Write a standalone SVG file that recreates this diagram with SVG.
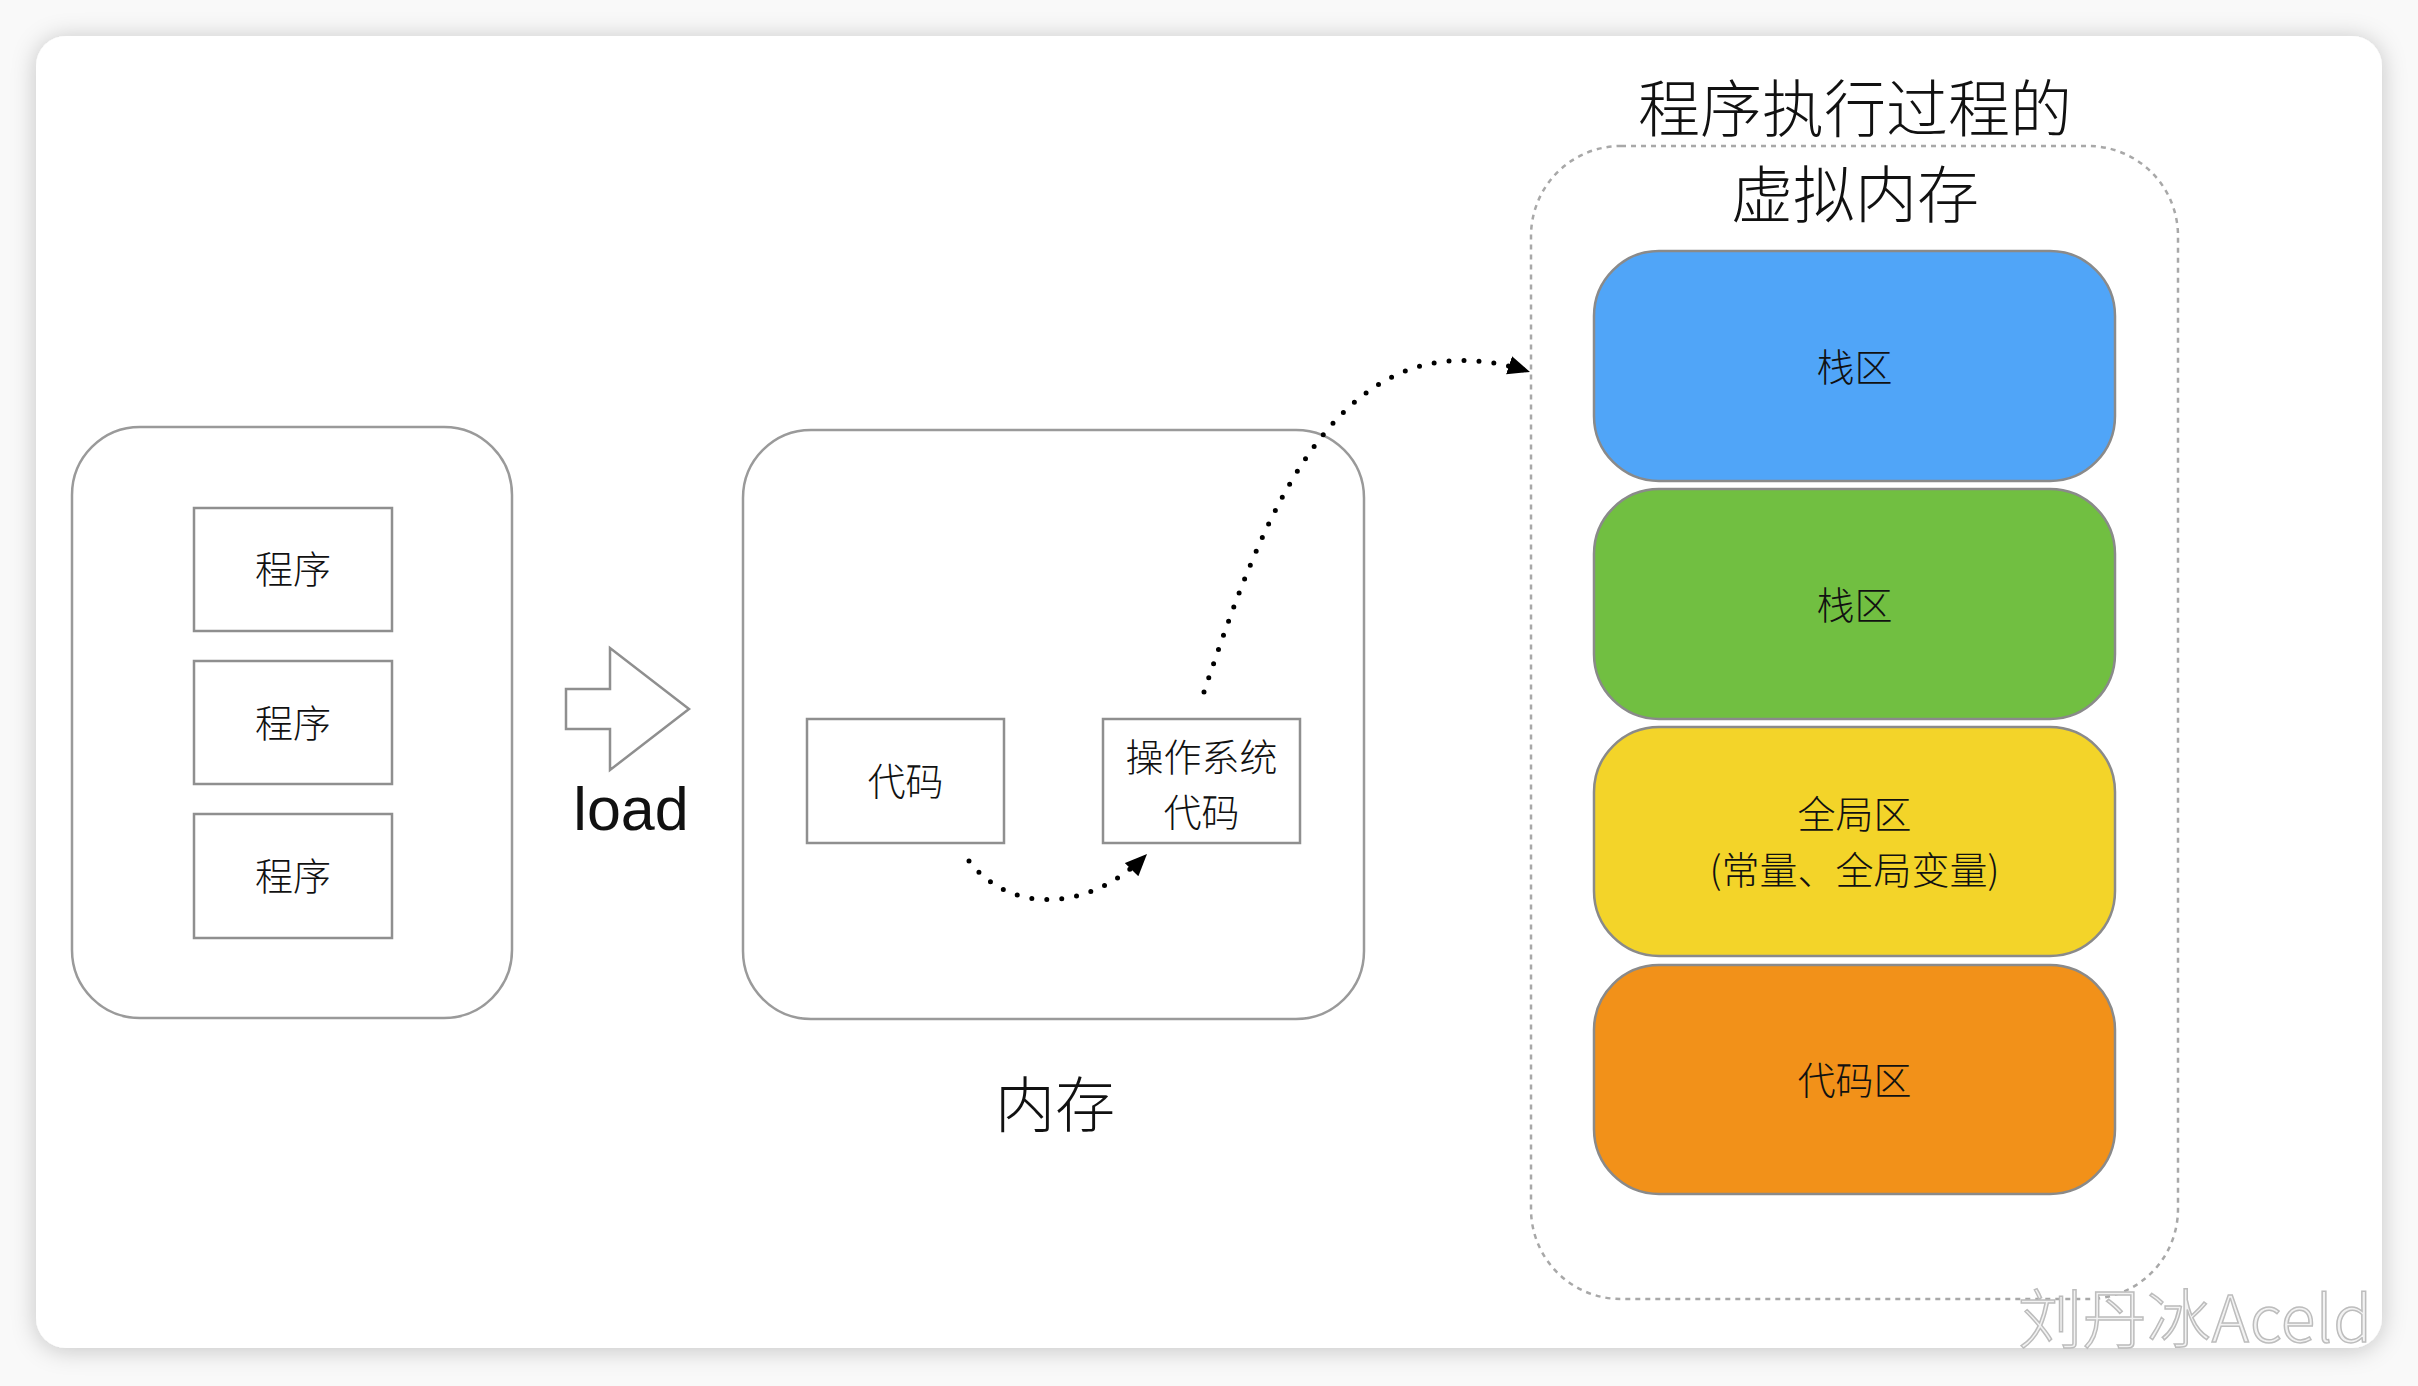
<svg xmlns="http://www.w3.org/2000/svg" width="2418" height="1386" viewBox="0 0 2418 1386">
<defs>
<style>
.t{font-family:"Noto Sans CJK SC","Noto Sans",sans-serif;font-weight:300;fill:#111;text-anchor:middle}
.s{font-size:38px}
.box{fill:#fff;stroke:#8f8f8f;stroke-width:2.5}
.outer{fill:#fff;stroke:#9a9a9a;stroke-width:2.5}
.blk{stroke:#8a8a8a;stroke-width:2.5}
.dot{fill:none;stroke:#000;stroke-width:5;stroke-linecap:round;stroke-dasharray:0 15}
</style>
<filter id="sh" x="-5%" y="-5%" width="110%" height="110%">
<feDropShadow dx="0" dy="2" stdDeviation="12" flood-color="#000" flood-opacity="0.22"/>
</filter>
<marker id="ah" markerUnits="userSpaceOnUse" markerWidth="24" markerHeight="22" refX="22" refY="9.5" orient="auto">
<path d="M0,0 L22,9.5 L0,19 z" fill="#000"/>
</marker>
</defs>
<rect x="0" y="0" width="2418" height="1386" fill="#f9f9f9"/>
<rect x="36" y="36" width="2346" height="1312" rx="30" fill="#fff" filter="url(#sh)"/>

<g id="programs">
<rect class="outer" x="72" y="427" width="440" height="591" rx="68"/>
<g id="prog1"><rect class="box" x="194" y="508" width="198" height="123"/><text class="t s" x="293" y="582.5">程序</text></g>
<g id="prog2"><rect class="box" x="194" y="661" width="198" height="123"/><text class="t s" x="293" y="736.5">程序</text></g>
<g id="prog3"><rect class="box" x="194" y="814" width="198" height="124"/><text class="t s" x="293" y="889.5">程序</text></g>
</g>

<g id="load">
<polygon points="566,689 610,689 610,648 689,709 610,770 610,729 566,729" fill="#fff" stroke="#8f8f8f" stroke-width="2.5"/>
<text x="631" y="830" font-family="Liberation Sans, Arial, sans-serif" font-weight="300" font-size="61" text-anchor="middle" fill="#111">load</text>
</g>

<g id="memory">
<rect class="outer" x="743" y="430" width="621" height="589" rx="68"/>
<g id="code"><rect class="box" x="807" y="719" width="197" height="124"/><text class="t s" x="905.5" y="794.5">代码</text></g>
<g id="oscode"><rect class="box" x="1103" y="719" width="197" height="124"/><text class="t s" x="1201.5" y="770.5">操作系统</text><text class="t s" x="1201.5" y="825.5">代码</text></g>
<text class="t" x="1055" y="1127" font-size="60">内存</text>
</g>

<g id="vmem">
<rect x="1531" y="146" width="647" height="1153" rx="90" fill="none" stroke="#a8a8a8" stroke-width="2.5" stroke-dasharray="5 5"/>
<text class="t" x="1855" y="132" font-size="62">程序执行过程的</text>
<text class="t" x="1855" y="218" font-size="62">虚拟内存</text>
<g id="stack"><rect class="blk" x="1594" y="251" width="521" height="230" rx="65" fill="#50a5f8"/><text class="t s" x="1854.5" y="380.5">栈区</text></g>
<g id="heap"><rect class="blk" x="1594" y="489" width="521" height="230" rx="65" fill="#71bf41"/><text class="t s" x="1854.5" y="618.5">栈区</text></g>
<g id="global"><rect class="blk" x="1594" y="727" width="521" height="229" rx="65" fill="#f3d429"/><text class="t s" x="1854.5" y="827.5">全局区</text><text class="t s" x="1854.5" y="883.5">(常量、全局变量)</text></g>
<g id="text"><rect class="blk" x="1594" y="965" width="521" height="229" rx="65" fill="#f29119"/><text class="t s" x="1854.5" y="1093.5">代码区</text></g>
</g>

<g id="connectors">
<path class="dot" d="M969,861 C1010,915 1090,912 1147,854" marker-end="url(#ah)"/>
<path class="dot" d="M1204,692 C1265,510 1340,310 1530,372" marker-end="url(#ah)"/>
</g>

<text x="2195" y="1342" font-family="Noto Sans CJK SC, Noto Sans, sans-serif" font-weight="300" font-size="64" text-anchor="middle" fill="#f2f2f2" stroke="#bdbdbd" stroke-width="1.5" textLength="354">刘丹冰Aceld</text>
</svg>
